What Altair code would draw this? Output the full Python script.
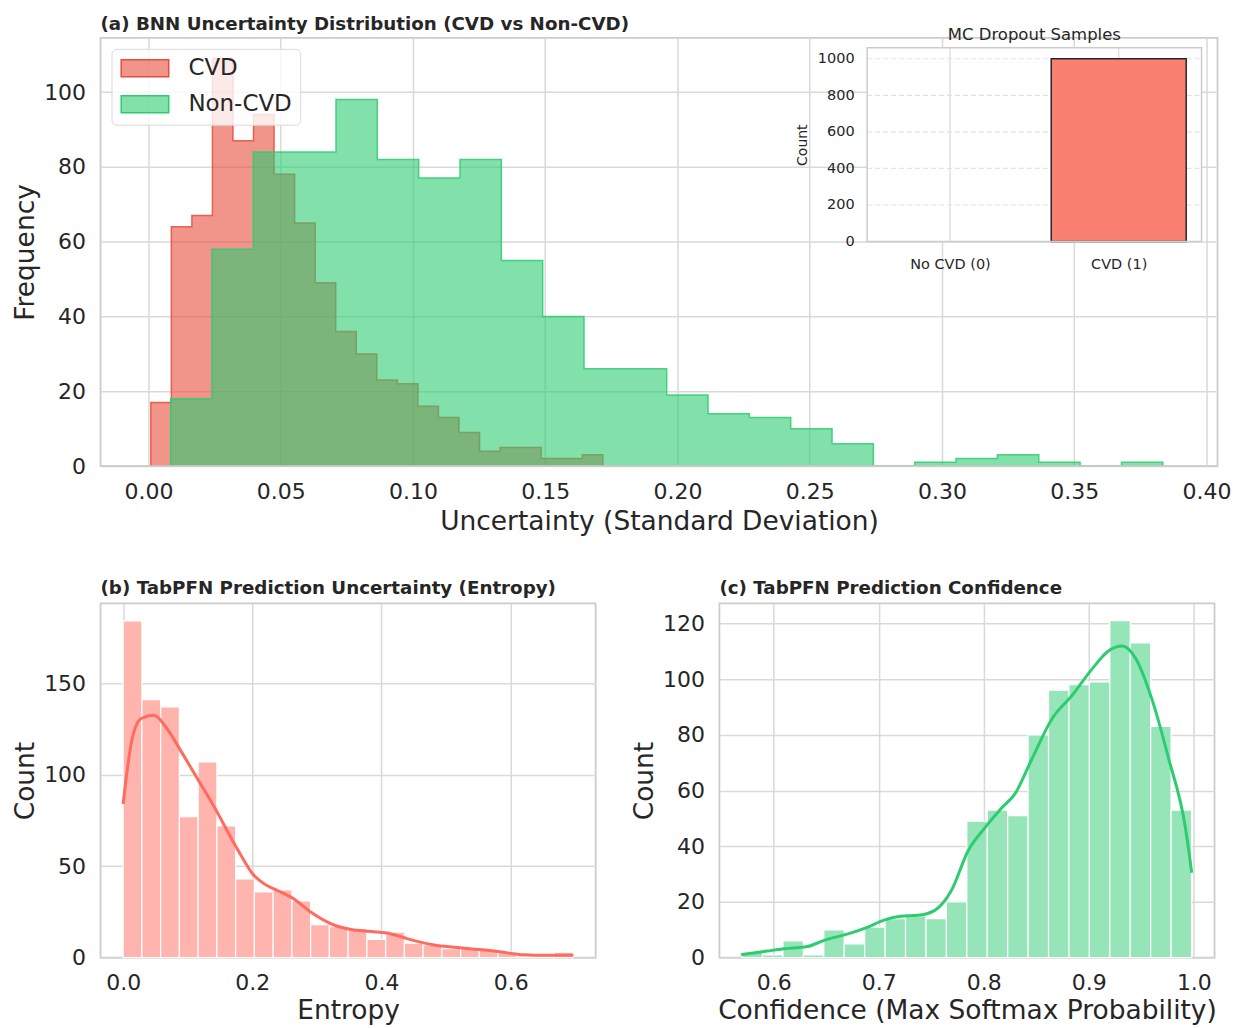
import altair as alt
import numpy as np
import pandas as pd

FONT = "DejaVu Sans"
TXT = "#262626"
GRID = "#d9d9d9"
SPINE = "#cccccc"

# ---------------- (a) BNN uncertainty histograms ----------------
groups = ["CVD", "Non-CVD"]
cvd_counts = [17, 64, 67, 109, 87, 94, 78, 65, 49, 36, 30, 23, 22, 16, 13, 9, 4, 5, 5, 2, 2, 3]
cvd_range = [0.0009, 0.1718]
noncvd_counts = [18, 58, 84, 84, 98, 82, 77, 82, 55, 40, 26, 26, 19, 14, 13, 10, 6, 0, 1, 2, 3, 1, 0, 1]
noncvd_range = [0.0084, 0.3835]
a_xticks = [0.0, 0.05, 0.10, 0.15, 0.20, 0.25, 0.30, 0.35, 0.40]
a_yticks = [0, 20, 40, 60, 80, 100]
a_xdomain = [-0.0181, 0.4042]
a_ydomain = [0, 114.5]

# inset (MC Dropout Samples)
inset_labels = ["No CVD (0)", "CVD (1)"]
inset_pos = [0, 1]
inset_counts = [0, 1000]
inset_yticks = [0, 200, 400, 600, 800, 1000]
inset_xlim = [-0.491, 1.491]
inset_ylim = [0, 1060]

# ---------------- (b) TabPFN entropy ----------------
entropy_counts = [184, 141, 137, 77, 107, 72, 43, 36, 37, 31, 18, 17, 16, 10, 14, 8, 7, 5, 5, 4, 3, 1, 1, 3]
entropy_range = [0.0, 0.6966]
entropy_kde_x = [0.0, 0.013, 0.028, 0.048, 0.064, 0.090, 0.116, 0.142, 0.167, 0.183, 0.201, 0.219, 0.240,
                 0.265, 0.291, 0.322, 0.353, 0.384, 0.415, 0.441, 0.477, 0.528, 0.580, 0.621, 0.657, 0.697]
entropy_kde_y = [84, 118, 130.7, 132.5, 127, 112.6, 97.2, 81.8, 65.5, 55.6, 45.6, 40.2, 36.6,
                 32, 24.8, 18.5, 15.4, 14.3, 13, 10.3, 7.2, 5.2, 3.4, 1.6, 1.3, 1.3]
b_xticks = [0.0, 0.2, 0.4, 0.6]
b_yticks = [0, 50, 100, 150]
b_xdomain = [-0.035, 0.7315]
b_ydomain = [0, 193.6]

# ---------------- (c) TabPFN confidence ----------------
conf_counts = [2, 1, 6, 1, 10, 5, 11, 14, 15, 14, 20, 49, 53, 51, 80, 96, 98, 99, 121, 113, 83, 53]
conf_range = [0.5699, 0.9978]
conf_kde_x = [0.569, 0.594, 0.610, 0.632, 0.648, 0.673, 0.689, 0.705, 0.721, 0.737, 0.753, 0.769, 0.785,
              0.801, 0.817, 0.830, 0.846, 0.865, 0.884, 0.903, 0.919, 0.932, 0.944, 0.960, 0.976, 0.992, 0.998]
conf_kde_y = [1.1, 2.4, 3.2, 4.0, 6.2, 8.8, 10.9, 13.5, 14.9, 15.2, 16.9, 24, 38.3,
              46.6, 53.7, 59, 71.5, 85.8, 94.1, 103.6, 110.2, 111.9, 107.8, 92.9, 71.5, 46.6, 30.5]
c_xticks = [0.6, 0.7, 0.8, 0.9, 1.0]
c_yticks = [0, 20, 40, 60, 80, 100, 120]
c_xdomain = [0.5483, 1.0197]
c_ydomain = [0, 127.2]


def area_frame(counts, rng, group):
    edges = np.linspace(rng[0], rng[1], len(counts) + 1)
    vals = list(counts) + [counts[-1]]
    return pd.DataFrame({"x": edges, "count": vals, "group": group})


def outline_frame(counts, rng, group):
    edges = np.linspace(rng[0], rng[1], len(counts) + 1)
    xs = [edges[0]] + list(edges) + [edges[-1]]
    ys = [0] + list(counts) + [counts[-1], 0]
    return pd.DataFrame({"x": xs, "count": ys, "group": group, "idx": range(len(xs))})


def bar_frame(counts, rng):
    edges = np.linspace(rng[0], rng[1], len(counts) + 1)
    return pd.DataFrame({"lo": edges[:-1], "hi": edges[1:], "count": counts, "zero": 0})


def title(text, offset):
    return alt.TitleParams(text=text, anchor="start", frame="group", offset=offset, baseline="alphabetic",
                           fontSize=18.3, fontWeight="bold", font=FONT, color=TXT)


def yaxis(values, ttl):
    return alt.Axis(values=values, title=ttl, minExtent=57, maxExtent=57, labelPadding=15, titlePadding=4)


def xaxis(values, ttl, fmt, tpad=7):
    return alt.Axis(values=values, title=ttl, format=fmt, labelFlush=False, labelPadding=15, titlePadding=tpad)


# ---- panel (a) ----
W_A, H_A = 1119, 429

leg = alt.Legend(title=None, orient="top-left", offset=11, symbolType="M-2.8,-1H2.8V1H-2.8Z",
                 symbolSize=289, symbolStrokeWidth=1.5, symbolOffset=14, labelOffset=32, padding=8,
                 rowPadding=12, labelFontSize=23, labelFont=FONT, labelColor=TXT,
                 fillColor="rgba(255,255,255,0.8)", strokeColor="#d9d9d9", cornerRadius=5)

ax_x = xaxis(a_xticks, "Uncertainty (Standard Deviation)", ".2f")
ax_y = yaxis(a_yticks, "Frequency")
sx_a = alt.Scale(domain=a_xdomain, nice=False, zero=False)
sy_a = alt.Scale(domain=a_ydomain, nice=False)
fill_scale = alt.Scale(domain=groups, range=["rgba(231,76,60,0.6)", "rgba(46,204,113,0.6)"])
stroke_scale = alt.Scale(domain=groups, range=["#e74c3c", "#2ecc71"])


def hist_layers(counts, rng, group):
    area = alt.Chart(area_frame(counts, rng, group)).mark_area(interpolate="step-after").encode(
        x=alt.X("x:Q", scale=sx_a, axis=ax_x),
        y=alt.Y("count:Q", stack=None, scale=sy_a, axis=ax_y),
        fill=alt.Fill("group:N", scale=fill_scale, legend=leg),
    )
    line = alt.Chart(outline_frame(counts, rng, group)).mark_line(
        interpolate="step-after", strokeWidth=1.5, strokeOpacity=0.85).encode(
        x=alt.X("x:Q", scale=sx_a, axis=ax_x),
        y=alt.Y("count:Q", stack=None, scale=sy_a, axis=ax_y),
        stroke=alt.Stroke("group:N", scale=stroke_scale, legend=leg),
        order=alt.Order("idx:Q"),
    )
    return [area, line]


# bottom spine drawn over the histogram outlines (as matplotlib does)
spine = alt.Chart(pd.DataFrame({"y": [a_ydomain[0]]})).mark_rule(color=SPINE, strokeWidth=1.8).encode(
    y=alt.Y("y:Q", scale=sy_a, axis=ax_y))

hist = alt.layer(*hist_layers(cvd_counts, cvd_range, groups[0]),
                 *hist_layers(noncvd_counts, noncvd_range, groups[1]), spine)

# inset, drawn with its own scales inside the inset box
box_left, box_right, box_top, box_bottom = 768, 1103, 10, 204
ix_scale = alt.Scale(domain=inset_xlim, range=[box_left, box_right], nice=False, zero=False)
iy_scale = alt.Scale(domain=inset_ylim, range=[box_bottom, box_top], nice=False, zero=False)
label_expr = f"datum.value == {inset_pos[0]} ? '{inset_labels[0]}' : '{inset_labels[1]}'"
ix_axis = alt.Axis(values=inset_pos, labelExpr=label_expr, orient="bottom", offset=-(H_A - box_bottom),
                   grid=False, domain=False, ticks=False, labelPadding=16, labelFontSize=14.5,
                   title=None, labelFlush=False)
iy_axis = alt.Axis(values=inset_yticks, format="d", orient="left", offset=-box_left, grid=False,
                   domain=False, ticks=False, labelPadding=13, labelFontSize=14.5, title="Count",
                   titleFontSize=14, titlePadding=8, minExtent=10, maxExtent=200)

frame_df = pd.DataFrame({"x0": [inset_xlim[0]], "x1": [inset_xlim[1]], "y0": [inset_ylim[0]],
                         "y1": [inset_ylim[1]], "mid": [(inset_xlim[0] + inset_xlim[1]) / 2],
                         "t": ["MC Dropout Samples"]})
vgrid_df = pd.DataFrame({"x": inset_pos, "y0": inset_ylim[0], "y1": inset_ylim[1]})
hgrid_df = pd.DataFrame({"y": inset_yticks[1:], "x0": inset_xlim[0], "x1": inset_xlim[1]})
inset_df = pd.DataFrame({"pos": inset_pos, "count": inset_counts, "label": inset_labels})


def ienc(xf, yf):
    return dict(x=alt.X(xf, scale=ix_scale, axis=ix_axis), y=alt.Y(yf, scale=iy_scale, axis=iy_axis))


inset_bg = alt.Chart(frame_df).mark_rect(fill="white").encode(
    **ienc("x0:Q", "y0:Q"), x2="x1:Q", y2="y1:Q")
inset_vgrid = alt.Chart(vgrid_df).mark_rule(color="#dcdcdc", strokeWidth=1.3).encode(
    **ienc("x:Q", "y0:Q"), y2="y1:Q")
inset_hgrid = alt.Chart(hgrid_df).mark_rule(color="#e2e2e2", strokeWidth=1.1, strokeDash=[5, 3]).encode(
    **ienc("x0:Q", "y:Q"), x2="x1:Q")
inset_bar = alt.Chart(inset_df).transform_filter("datum.count > 0").transform_calculate(
    left="datum.pos - 0.4", right="datum.pos + 0.4", zero="0").mark_rect(
    fill="#fa8072", stroke="#262626", strokeWidth=1.5).encode(
    **ienc("left:Q", "count:Q"), x2="right:Q", y2="zero:Q")
inset_frame = alt.Chart(frame_df).mark_rect(filled=False, stroke=SPINE, strokeWidth=1.5).encode(
    **ienc("x0:Q", "y0:Q"), x2="x1:Q", y2="y1:Q")
inset_title = alt.Chart(frame_df).mark_text(font=FONT, fontSize=16.5, color=TXT, baseline="alphabetic",
                                            align="center", dy=-8).encode(
    **ienc("mid:Q", "y1:Q"), text="t:N")

inset = alt.layer(inset_bg, inset_vgrid, inset_hgrid, inset_bar, inset_frame, inset_title)

panel_a = alt.layer(hist, inset).resolve_scale(x="independent", y="independent").properties(
    width=W_A, height=H_A, title=title("(a) BNN Uncertainty Distribution (CVD vs Non-CVD)", -21))

# ---- panel (b) ----
W_B, H_B = 496, 355
ent_df = bar_frame(entropy_counts, entropy_range)
ent_kde = pd.DataFrame({"x": entropy_kde_x, "y": entropy_kde_y})
bx = alt.Scale(domain=b_xdomain, nice=False, zero=False)
by = alt.Scale(domain=b_ydomain, nice=False)
bxa = xaxis(b_xticks, "Entropy", ".1f", 4)
bya = yaxis(b_yticks, "Count")
b_bars = alt.Chart(ent_df).mark_rect(fill="#ffb4ae", stroke="white", strokeWidth=1.2).encode(
    x=alt.X("lo:Q", scale=bx, axis=bxa), x2="hi:Q",
    y=alt.Y("count:Q", scale=by, axis=bya), y2="zero:Q")
b_line = alt.Chart(ent_kde).mark_line(color="#ff6b5e", strokeWidth=3, interpolate="monotone").encode(
    x=alt.X("x:Q", scale=bx, axis=bxa), y=alt.Y("y:Q", scale=by, axis=bya))
panel_b = alt.layer(b_bars, b_line).properties(
    width=W_B, height=H_B, title=title("(b) TabPFN Prediction Uncertainty (Entropy)", -9))

# ---- panel (c) ----
conf_df = bar_frame(conf_counts, conf_range)
conf_kde = pd.DataFrame({"x": conf_kde_x, "y": conf_kde_y})
cx = alt.Scale(domain=c_xdomain, nice=False, zero=False)
cy = alt.Scale(domain=c_ydomain, nice=False)
cxa = xaxis(c_xticks, "Confidence (Max Softmax Probability)", ".1f", 4)
cya = yaxis(c_yticks, "Count")
c_bars = alt.Chart(conf_df).mark_rect(fill="#96e5b8", stroke="white", strokeWidth=1.2).encode(
    x=alt.X("lo:Q", scale=cx, axis=cxa), x2="hi:Q",
    y=alt.Y("count:Q", scale=cy, axis=cya), y2="zero:Q")
c_line = alt.Chart(conf_kde).mark_line(color="#2ecc71", strokeWidth=3, interpolate="monotone").encode(
    x=alt.X("x:Q", scale=cx, axis=cxa), y=alt.Y("y:Q", scale=cy, axis=cya))
panel_c = alt.layer(c_bars, c_line).properties(
    width=W_B, height=H_B, title=title("(c) TabPFN Prediction Confidence", -9))

chart = alt.vconcat(
    panel_a,
    alt.hconcat(panel_b, panel_c, spacing=34),
    spacing=40.5,
).properties(
    padding={"left": 3.7, "top": 4, "right": -1.5, "bottom": 0}
).configure_axis(
    labelFont=FONT, titleFont=FONT, labelColor=TXT, titleColor=TXT, gridColor=GRID, gridWidth=1.5,
    domain=False, ticks=False, tickSize=0, labelFontSize=22, titleFontSize=26.5, titleFontWeight="normal",
).configure_view(
    stroke=SPINE, strokeWidth=1.8
).configure_text(font=FONT)

chart.save("out.html", embed_options={"renderer": "svg", "actions": False})
